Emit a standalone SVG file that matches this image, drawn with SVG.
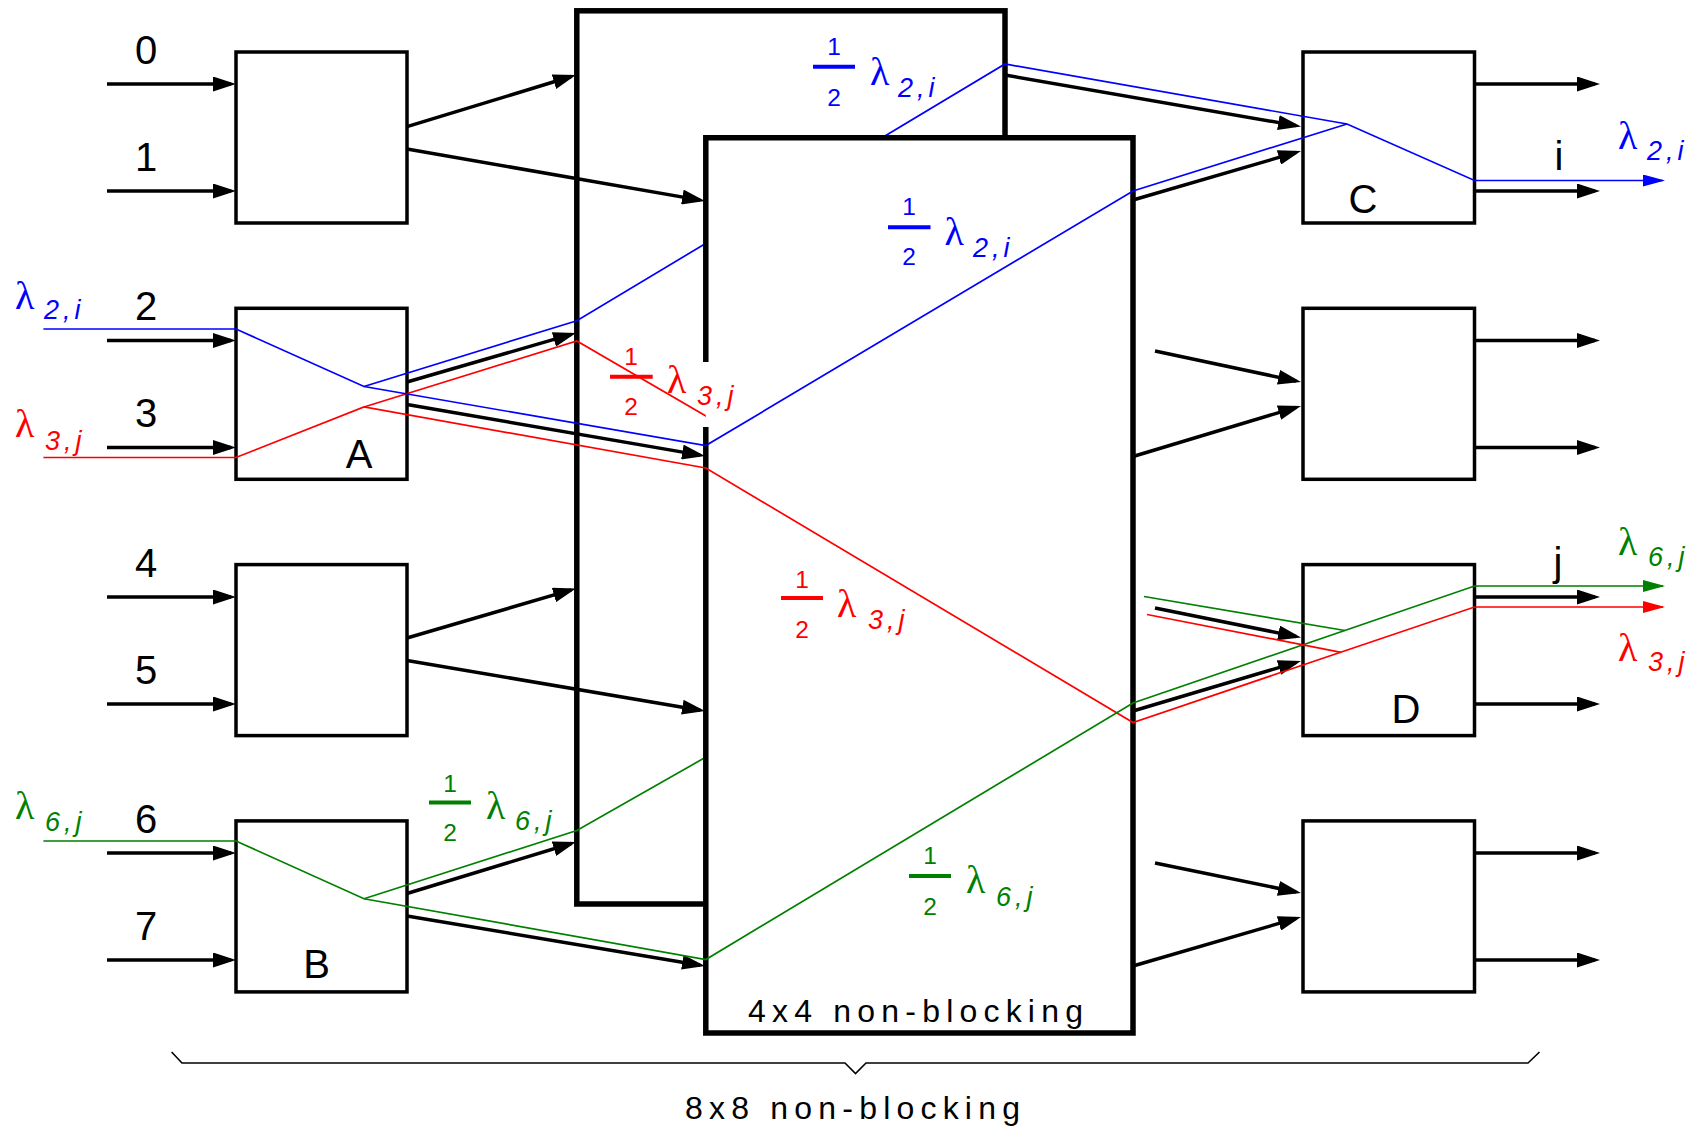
<svg xmlns="http://www.w3.org/2000/svg" width="1700" height="1127" viewBox="0 0 1700 1127">
<defs>
<marker id="ah" markerUnits="userSpaceOnUse" markerWidth="23" markerHeight="15" refX="18" refY="7.5" orient="auto"><path d="M0,0 L23,7.5 L0,15 z" fill="#000"/></marker>
<marker id="ahB" markerUnits="userSpaceOnUse" markerWidth="22" markerHeight="12" refX="20" refY="6" orient="auto"><path d="M0,0 L22,6 L0,12 z" fill="#0000ff"/></marker>
<marker id="ahR" markerUnits="userSpaceOnUse" markerWidth="22" markerHeight="12" refX="20" refY="6" orient="auto"><path d="M0,0 L22,6 L0,12 z" fill="#ff0000"/></marker>
<marker id="ahG" markerUnits="userSpaceOnUse" markerWidth="22" markerHeight="12" refX="20" refY="6" orient="auto"><path d="M0,0 L22,6 L0,12 z" fill="#008000"/></marker>
</defs>
<style>
.sw{fill:#fff;stroke:#000;stroke-width:3.5}
.big{fill:none;stroke:#000;stroke-width:5.5}
.ar{fill:none;stroke:#000;stroke-width:3.5;marker-end:url(#ah)}
.b{fill:none;stroke:#0000ff;stroke-width:1.7}
.r{fill:none;stroke:#ff0000;stroke-width:1.7}
.g{fill:none;stroke:#008000;stroke-width:1.7}
.num{font-family:"Liberation Sans",Arial,sans-serif;font-size:40px;fill:#000;text-anchor:middle}
.lam{font-family:"Liberation Serif","Times New Roman",serif;font-size:40px}
.sub{font-family:"Liberation Sans",Arial,sans-serif;font-style:italic;font-size:27px;letter-spacing:4px}
.fr{font-family:"Liberation Sans",Arial,sans-serif;font-size:24.5px;text-anchor:middle}
.cap{font-family:"Liberation Sans",Arial,sans-serif;font-size:32px;letter-spacing:6.2px;fill:#000}
.tb{fill:#0000ff}.tr{fill:#ff0000}.tg{fill:#008000}
.barB{stroke:#0000ff;stroke-width:4}.barR{stroke:#ff0000;stroke-width:4}.barG{stroke:#008000;stroke-width:4}
</style>

<g id="back-switch"><rect class="big" x="576.8" y="10.8" width="428.2" height="893.2"/></g>

<g id="in0"><rect class="sw" x="236" y="52" width="171" height="171"/></g>
<g id="in1"><rect class="sw" x="236" y="308.3" width="171" height="171"/><text class="num" x="359" y="468">A</text></g>
<g id="in2"><rect class="sw" x="236" y="564.6" width="171" height="171"/></g>
<g id="in3"><rect class="sw" x="236" y="820.9" width="171" height="171"/><text class="num" x="316.6" y="978">B</text></g>
<g id="out0"><rect class="sw" x="1303" y="52" width="171.5" height="171"/><text class="num" x="1363" y="213">C</text></g>
<g id="out1"><rect class="sw" x="1303" y="308.3" width="171.5" height="171"/></g>
<g id="out2"><rect class="sw" x="1303" y="564.6" width="171.5" height="171"/><text class="num" x="1406" y="723">D</text></g>
<g id="out3"><rect class="sw" x="1303" y="820.9" width="171.5" height="171"/></g>

<g id="connectors">
<path class="ar" d="M107,84 H231"/>
<path class="ar" d="M107,191 H231"/>
<path class="ar" d="M107,340.5 H231"/>
<path class="ar" d="M107,447.5 H231"/>
<path class="ar" d="M107,597 H231"/>
<path class="ar" d="M107,704 H231"/>
<path class="ar" d="M107,853 H231"/>
<path class="ar" d="M107,960 H231"/>
<path class="ar" d="M1474.5,84 H1595"/>
<path class="ar" d="M1474.5,191 H1595"/>
<path class="ar" d="M1474.5,340.5 H1595"/>
<path class="ar" d="M1474.5,447.5 H1595"/>
<path class="ar" d="M1474.5,597 H1595"/>
<path class="ar" d="M1474.5,704 H1595"/>
<path class="ar" d="M1474.5,853 H1595"/>
<path class="ar" d="M1474.5,960 H1595"/>
<path class="ar" d="M407,126.7 L571.2,76.5"/>
<path class="ar" d="M407,149 L700.1,200.1"/>
<path class="ar" d="M407,382 L571.2,334.4"/>
<path class="ar" d="M407,404.5 L700.1,455.1"/>
<path class="ar" d="M407,638 L571.2,589.9"/>
<path class="ar" d="M407,660.5 L700.1,710.2"/>
<path class="ar" d="M407,893.5 L571.2,843.5"/>
<path class="ar" d="M407,916 L700.1,965.2"/>
<path class="ar" d="M1005,75 L1296.1,125.6"/>
<path class="ar" d="M1133,200 L1296.2,152.4"/>
<path class="ar" d="M1155,351 L1296.1,381"/>
<path class="ar" d="M1133,456.5 L1296.2,407.4"/>
<path class="ar" d="M1155,608 L1296.1,636.5"/>
<path class="ar" d="M1133,711 L1296.2,662.4"/>
<path class="ar" d="M1155,863 L1296.1,892"/>
<path class="ar" d="M1133,966 L1296.2,918.4"/>
<polyline class="b" points="364,386.5 576.8,320.7 1005,64 1347,124 1474.5,180.5 1663,180.5" style="marker-end:url(#ahB)"/>
<polyline class="r" points="364,407 576.8,341 1005,590"/>
<polyline class="g" points="364,898.8 576.8,830.5 1005,587"/>
</g>

<g id="front-switch">
<rect x="705.8" y="137.7" width="427.2" height="895.3" fill="#fff"/>
<path class="big" d="M705.8,362 V137.7 H1133 V1033 H705.8 V427"/>
<text class="cap" x="748" y="1021.6">4x4 non-blocking</text>
</g>

<g id="paths">
<polyline class="b" points="43.4,329 236,329 364,386.5 705.8,445.6 1133,191 1347,124"/>
<polyline class="r" points="43.4,457.5 236,457.5 364,407 705.8,468 1133,722.5 1474.5,607 1663,607" style="marker-end:url(#ahR)"/>
<polyline class="g" points="43.4,841 236,841 364,898.8 705.8,959.5 1133,703 1474.5,586 1663,586" style="marker-end:url(#ahG)"/>
<line class="r" x1="1147" y1="614.5" x2="1341" y2="652.3"/>
<line class="g" x1="1144" y1="596.5" x2="1345" y2="630.5"/>
</g>

<g id="labels">
<text class="num" x="146" y="63.5">0</text>
<text class="num" x="146" y="170.5">1</text>
<text class="num" x="146" y="320">2</text>
<text class="num" x="146" y="427">3</text>
<text class="num" x="146" y="576.5">4</text>
<text class="num" x="146" y="683.5">5</text>
<text class="num" x="146" y="832.5">6</text>
<text class="num" x="146" y="939.5">7</text>
<text class="num" x="1559" y="169.5">i</text>
<text class="num" x="1558" y="576">j</text>

<text class="lam tb" x="15" y="309">λ</text><text class="sub tb" x="44" y="319">2,i</text>
<text class="lam tr" x="15" y="436.7">λ</text><text class="sub tr" x="45" y="450">3,j</text>
<text class="lam tg" x="15" y="819">λ</text><text class="sub tg" x="45" y="830.7">6,j</text>
<text class="lam tb" x="1618" y="149">λ</text><text class="sub tb" x="1647" y="160">2,i</text>
<text class="lam tg" x="1618" y="555">λ</text><text class="sub tg" x="1648" y="566">6,j</text>
<text class="lam tr" x="1618" y="661">λ</text><text class="sub tr" x="1648" y="671">3,j</text>

<line class="barB" x1="813" y1="66.7" x2="855" y2="66.7"/>
<text class="fr tb" x="834" y="55">1</text><text class="fr tb" x="834" y="106">2</text>
<text class="lam tb" x="870" y="85">λ</text><text class="sub tb" x="898" y="96.7">2,i</text>

<line class="barB" x1="888" y1="227.3" x2="930.5" y2="227.3"/>
<text class="fr tb" x="909" y="215">1</text><text class="fr tb" x="909" y="265">2</text>
<text class="lam tb" x="944.6" y="245">λ</text><text class="sub tb" x="973" y="257">2,i</text>

<line class="barR" x1="610" y1="376.7" x2="652.7" y2="376.7"/>
<text class="fr tr" x="631" y="365">1</text><text class="fr tr" x="631" y="415">2</text>
<text class="lam tr" x="667" y="393">λ</text><text class="sub tr" x="697" y="405">3,j</text>

<line class="barR" x1="781" y1="598" x2="823" y2="598"/>
<text class="fr tr" x="802" y="588">1</text><text class="fr tr" x="802" y="637.5">2</text>
<text class="lam tr" x="837" y="617">λ</text><text class="sub tr" x="868" y="629">3,j</text>

<line class="barG" x1="429" y1="802.5" x2="471" y2="802.5"/>
<text class="fr tg" x="450" y="792">1</text><text class="fr tg" x="450" y="841">2</text>
<text class="lam tg" x="486" y="819">λ</text><text class="sub tg" x="515" y="830">6,j</text>

<line class="barG" x1="909" y1="876" x2="951" y2="876"/>
<text class="fr tg" x="930" y="864.4">1</text><text class="fr tg" x="930" y="915">2</text>
<text class="lam tg" x="966" y="892.5">λ</text><text class="sub tg" x="996" y="905.5">6,j</text>
</g>

<g id="brace">
<path d="M171.6,1052 L182,1063 H845 L855.5,1073.5 L866,1063 H1528 L1539.5,1052" fill="none" stroke="#000" stroke-width="1.6"/>
<text class="cap" x="685" y="1119">8x8 non-blocking</text>
</g>
</svg>
